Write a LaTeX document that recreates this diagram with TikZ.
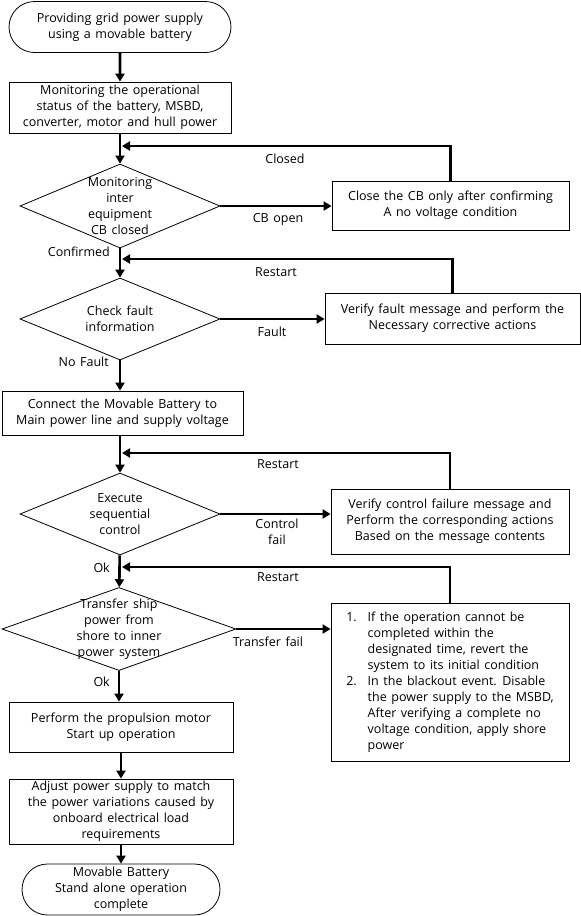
\documentclass[tikz,border=0pt]{standalone}
\usepackage{fontspec}
\setmainfont[WordSpace=1.4]{Open Sans}
\usetikzlibrary{shapes.geometric, shapes.misc, arrows.meta}

\begin{document}
\begin{tikzpicture}[x=1pt, y=-1pt,
        every node/.style={font=\fontsize{12.5}{16}\selectfont, align=center, inner sep=0pt},
        box/.style={draw, line width=0.8pt, rectangle},
        term/.style={draw, line width=0.8pt, rounded rectangle},
        dec/.style={draw, line width=0.8pt, diamond},
        flow/.style={line width=2.6pt, -{Triangle[width=9pt, length=8pt]}}]
        \useasboundingbox (0,0) rectangle (581,916);

        % main column
        \node[term, minimum width=222pt, minimum height=51pt] (start) at (120,27) {Providing grid power supply\\using a movable battery};
        \node[box, minimum width=222pt, minimum height=51pt] (mon) at (120,107.5) {Monitoring the operational\\status of the battery, MSBD,\\converter, motor and hull power};
        \node[dec, minimum width=200pt, minimum height=84pt] (d1) at (120,206) {};
        \node (d1t) at (d1) {Monitoring\\inter\\equipment\\CB closed};
        \node[dec, minimum width=200pt, minimum height=82pt] (d2) at (120,319) {};
        \node (d2t) at (d2) {Check fault\\information};
        \node[box, minimum width=241pt, minimum height=44pt] (con) at (122.5,413) {Connect the Movable Battery to\\Main power line and supply voltage};
        \node[dec, minimum width=200pt, minimum height=82pt] (d3) at (120,514) {};
        \node (d3t) at (d3) {Execute\\sequential\\control};
        \node[dec, minimum width=234pt, minimum height=83pt] (d4) at (119,629) {};
        \node (d4t) at (d4) {Transfer ship\\power from\\shore to inner\\power system};
        \node[box, minimum width=224pt, minimum height=50pt] (mot) at (121,727) {Perform the propulsion motor\\Start up operation};
        \node[box, minimum width=224pt, minimum height=65pt] (adj) at (121,811.5) {Adjust power supply to match\\the power variations caused by\\onboard electrical load\\requirements};
        \node[term, minimum width=198pt, minimum height=51pt] (fin) at (121,889.5) {Movable Battery\\Stand alone operation\\complete};

        % right column
        \node[box, minimum width=237pt, minimum height=49pt] (rb1) at (450.5,205.5) {Close the CB only after confirming\\A no voltage condition};
        \node[box, minimum width=255pt, minimum height=51pt] (rb2) at (452.5,318.5) {Verify fault message and perform the\\Necessary corrective actions};
        \node[box, minimum width=238pt, minimum height=65pt] (rb3) at (450,521.5) {Verify control failure message and\\Perform the corresponding actions\\Based on the message contents};
        \node[box, minimum width=238pt, minimum height=158pt] (rb4) at (450,682) {\begin{tabular}{@{}l@{\hspace{11pt}}l@{}}
            1. & If the operation cannot be\\
               & completed within the\\
               & designated time, revert the\\
               & system to its initial condition\\
            2. & In the blackout event. Disable\\
               & the power supply to the MSBD,\\
               & After verifying a complete no\\
               & voltage condition, apply shore\\
               & power
        \end{tabular}};

        % joints on the main line
        \coordinate (j1) at (122,146);
        \coordinate (j2) at (122,259);
        \coordinate (j3) at (122,453);
        \coordinate (j4) at (122,567);

        \draw[flow] (start) -- (mon);
        \draw[flow] (mon) -- (d1);
        \draw[flow] (d1) -- (d2);
        \draw[flow] (d2) -- (d2 |- con.north);
        \draw[flow] (con.south -| d3) -- (d3);
        \draw[flow] (d3) -- (d4);
        \draw[flow] (d4.south) -- (d4.south |- mot.north);
        \draw[flow] (mot.south -| adj) -- (adj);
        \draw[flow] (adj) -- (fin);

        \draw[flow] (d1.east) -- (d1.east -| rb1.west);
        \draw[flow] (d2.east) -- (d2.east -| rb2.west);
        \draw[flow] (d3.east) -- (d3.east -| rb3.west);
        \draw[flow] (d4.east) -- (d4.east -| rb4.west);

        \draw[flow] (rb1.north) |- (j1);
        \draw[flow] (rb2.north) |- (j2);
        \draw[flow] (rb3.north) |- (j3);
        \draw[flow] (rb4.north) |- (j4);

        % labels
        \node (lclosed) at (285,159) {Closed};
        \node (lcbopen) at (278,219) {CB open};
        \node[anchor=east] (lconf) at (110,252) {Confirmed};
        \node (lrs1) at (276,272) {Restart};
        \node (lfault) at (272,332) {Fault};
        \node[anchor=east] (lnof) at (109,362) {No Fault};
        \node (lrs2) at (278,464) {Restart};
        \node (lcf) at (277,532) {Control\\fail};
        \node[anchor=east] (lok1) at (110,568) {Ok};
        \node (lrs3) at (278,577) {Restart};
        \node (ltf) at (268,642) {Transfer fail};
        \node[anchor=east] (lok2) at (110,682) {Ok};
    \end{tikzpicture}
\end{document}
